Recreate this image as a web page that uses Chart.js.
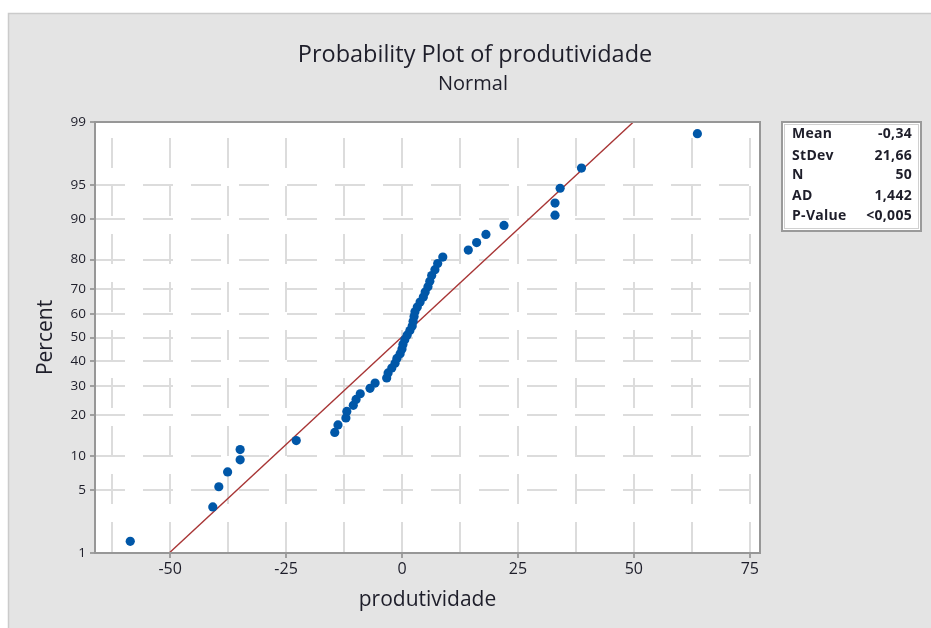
<!DOCTYPE html>
<html><head><meta charset="utf-8">
<script src="https://cdn.jsdelivr.net/npm/chart.js@4.4.1/dist/chart.umd.min.js"></script>
<style>html,body{margin:0;padding:0;background:#fff;} #wrap{position:relative;width:931px;height:628px;} canvas{display:block;}</style>
</head><body><div id="wrap"><canvas id="c" width="931" height="628"></canvas></div>
<script>
// ---- data ----
const produtividade = [-58.6, -40.8, -39.5, -37.6, -34.9, -34.9, -22.8, -14.5, -13.8, -12.1,
  -11.9, -10.5, -9.9, -9.0, -6.9, -5.8, -3.3, -3.0, -2.2, -1.5,
  -1.1, -0.4, 0.0, 0.2, 0.6, 1.1, 1.7, 2.2, 2.4, 2.6,
  2.8, 3.3, 3.9, 4.6, 5.0, 5.6, 6.0, 6.4, 7.1, 7.7,
  8.8, 14.3, 16.1, 18.1, 22.0, 33.0, 33.0, 34.1, 38.7, 63.7];
const percentValues = [1.39, 3.37, 5.36, 7.34, 9.33, 11.31, 13.29, 15.28, 17.26, 19.25,
  21.23, 23.21, 25.20, 27.18, 29.17, 31.15, 33.13, 35.12, 37.10, 39.09,
  41.07, 43.06, 45.04, 47.02, 49.01, 50.99, 52.98, 54.96, 56.94, 58.93,
  60.91, 62.90, 64.88, 66.87, 68.85, 70.83, 72.82, 74.80, 76.79, 78.77,
  80.75, 82.74, 84.72, 86.71, 88.69, 90.67, 92.66, 94.64, 96.63, 98.61];
const fitLineX = [-50.2, 49.9];
const fitLineP = [1, 99];
const percentTicks = [1, 5, 10, 20, 30, 40, 50, 60, 70, 80, 90, 95, 99];
const xGridTicks = [-62.5, -50, -37.5, -25, -12.5, 0, 12.5, 25, 37.5, 50, 62.5, 75];
const xLabelTicks = [-50, -25, 0, 25, 50, 75];
const statLabels = ['Mean', 'StDev', 'N', 'AD', 'P-Value'];
const statValues = ['-0,34', '21,66', '50', '1,442', '<0,005'];
const titleText = 'Probability Plot of produtividade';
const subtitleText = 'Normal';
const xTitle = 'produtividade';
const yTitle = 'Percent';

// inverse standard normal (probability scale transform)
function probit(p){
  const a=[-3.969683028665376e+01,2.209460984245205e+02,-2.759285104469687e+02,1.383577518672690e+02,-3.066479806614716e+01,2.506628277459239e+00];
  const b=[-5.447609879822406e+01,1.615858368580409e+02,-1.556989798598866e+02,6.680131188771972e+01,-1.328068155288572e+01];
  const c=[-7.784894002430293e-03,-3.223964580411365e-01,-2.400758277161838e+00,-2.549671010229504e+00,4.374664141464968e+00,2.938163982698783e+00];
  const d=[7.784695709041462e-03,3.224671290700398e-01,2.445134137142996e+00,3.754408661907416e+00];
  const pl=0.02425, ph=1-pl; let q,r;
  if(p<pl){q=Math.sqrt(-2*Math.log(p));return (((((c[0]*q+c[1])*q+c[2])*q+c[3])*q+c[4])*q+c[5])/((((d[0]*q+d[1])*q+d[2])*q+d[3])*q+1);}
  if(p<=ph){q=p-0.5;r=q*q;return (((((a[0]*r+a[1])*r+a[2])*r+a[3])*r+a[4])*r+a[5])*q/(((((b[0]*r+b[1])*r+b[2])*r+b[3])*r+b[4])*r+1);}
  q=Math.sqrt(-2*Math.log(1-p));return -(((((c[0]*q+c[1])*q+c[2])*q+c[3])*q+c[4])*q+c[5])/((((d[0]*q+d[1])*q+d[2])*q+d[3])*q+1);
}
const pz = p => probit(p / 100);

const FONT = "'Open Sans', 'Noto Sans', sans-serif";
const TXT = '#1e1e2a';

const decor = {
  id: 'decor',
  beforeDraw(chart) {
    const ctx = chart.ctx, a = chart.chartArea;
    ctx.save();
    ctx.fillStyle = '#ffffff';
    ctx.fillRect(0, 0, chart.width, chart.height);
    ctx.fillStyle = '#e4e4e4';
    ctx.fillRect(8, 13, chart.width - 8, chart.height - 13);
    ctx.strokeStyle = '#cbcbcb';
    ctx.lineWidth = 1.5;
    ctx.strokeRect(8.5, 13.5, chart.width, chart.height);
    ctx.fillStyle = '#ffffff';
    ctx.fillRect(a.left, a.top, a.right - a.left, a.bottom - a.top);
    ctx.restore();
  },
  afterDraw(chart) {
    const ctx = chart.ctx, a = chart.chartArea;
    ctx.save();
    // plot frame
    ctx.strokeStyle = '#979797';
    ctx.lineWidth = 2;
    ctx.strokeRect(a.left, a.top, a.right - a.left, a.bottom - a.top);
    // titles
    ctx.fillStyle = TXT;
    ctx.textAlign = 'center';
    ctx.textBaseline = 'middle';
    ctx.font = '23.5px ' + FONT;
    ctx.fillText(titleText, 475, 55);
    ctx.font = '20px ' + FONT;
    ctx.fillText(subtitleText, 473, 84);
    // stats box
    const bx = 782, by = 122, bw = 139, bh = 109;
    ctx.fillStyle = '#ffffff';
    ctx.fillRect(bx, by, bw, bh);
    ctx.strokeStyle = '#9a9a9a';
    ctx.lineWidth = 2;
    ctx.strokeRect(bx, by, bw, bh);
    ctx.strokeStyle = '#d0d0d0';
    ctx.lineWidth = 1;
    ctx.strokeRect(bx + 2.5, by + 2.5, bw - 5, bh - 5);
    const rowY = [134, 156, 175, 196, 216];
    ctx.font = 'bold 14px ' + FONT;
    try { ctx.letterSpacing = '0.3px'; } catch (e) {}
    ctx.fillStyle = TXT;
    statLabels.forEach((t, i) => {
      ctx.textAlign = 'left';
      ctx.fillText(t, 792, rowY[i]);
      ctx.textAlign = 'right';
      ctx.fillText(statValues[i], 912, rowY[i]);
    });
    ctx.restore();
  }
};

new Chart(document.getElementById('c'), {
  type: 'scatter',
  data: {
    datasets: [
      {
        label: 'produtividade',
        data: produtividade.map((x, i) => ({ x: x, y: pz(percentValues[i]) })),
        backgroundColor: '#0057a8',
        borderColor: '#0057a8',
        borderWidth: 0,
        pointRadius: 4.6,
        pointHoverRadius: 4.6
      },
      {
        label: 'fit',
        type: 'line',
        data: fitLineX.map((x, i) => ({ x: x, y: pz(fitLineP[i]) })),
        borderColor: '#a83535',
        borderWidth: 1.4,
        pointRadius: 0,
        fill: false
      }
    ]
  },
  options: {
    responsive: false,
    animation: false,
    events: [],
    layout: { padding: { top: 122, right: 171, bottom: 0, left: 0 } },
    plugins: { legend: { display: false }, tooltip: { enabled: false }, title: { display: false } },
    scales: {
      x: {
        type: 'linear',
        min: -66.2,
        max: 77.2,
        afterBuildTicks: s => { s.ticks = xGridTicks.map(v => ({ value: v })); },
        afterFit: s => { s.height = 75; },
        ticks: {
          autoSkip: false,
          maxRotation: 0,
          padding: 2,
          color: TXT,
          font: { family: FONT, size: 16 },
          callback: v => xLabelTicks.includes(v) ? String(v) : ''
        },
        grid: {
          color: '#dcdcdc',
          lineWidth: 2,
          tickLength: 5,
          tickWidth: 1.5,
          tickColor: ctx => (ctx.tick && xLabelTicks.includes(ctx.tick.value)) ? '#8a8a8a' : 'rgba(0,0,0,0)'
        },
        border: { display: false, dash: [30, 18], dashOffset: 32 },
        title: { display: true, text: xTitle, color: TXT, font: { family: FONT, size: 21 }, padding: { top: 0, bottom: 15 } }
      },
      y: {
        type: 'linear',
        min: pz(1),
        max: pz(99),
        afterBuildTicks: s => { s.ticks = percentTicks.map(p => ({ value: pz(p) })); },
        afterFit: s => { s.width = 95; },
        ticks: {
          autoSkip: false,
          padding: 4,
          color: TXT,
          font: { family: FONT, size: 13.5 },
          callback: (v, i) => String(percentTicks[i])
        },
        grid: {
          color: '#dcdcdc',
          lineWidth: 2,
          tickLength: 5,
          tickWidth: 1.5,
          tickColor: '#8a8a8a'
        },
        border: { display: false, dash: [30, 18], dashOffset: 0 },
        title: { display: true, text: yTitle, color: TXT, font: { family: FONT, size: 21 }, padding: { top: 33, bottom: 0 } }
      }
    }
  },
  plugins: [decor]
});
</script>
</body></html>
